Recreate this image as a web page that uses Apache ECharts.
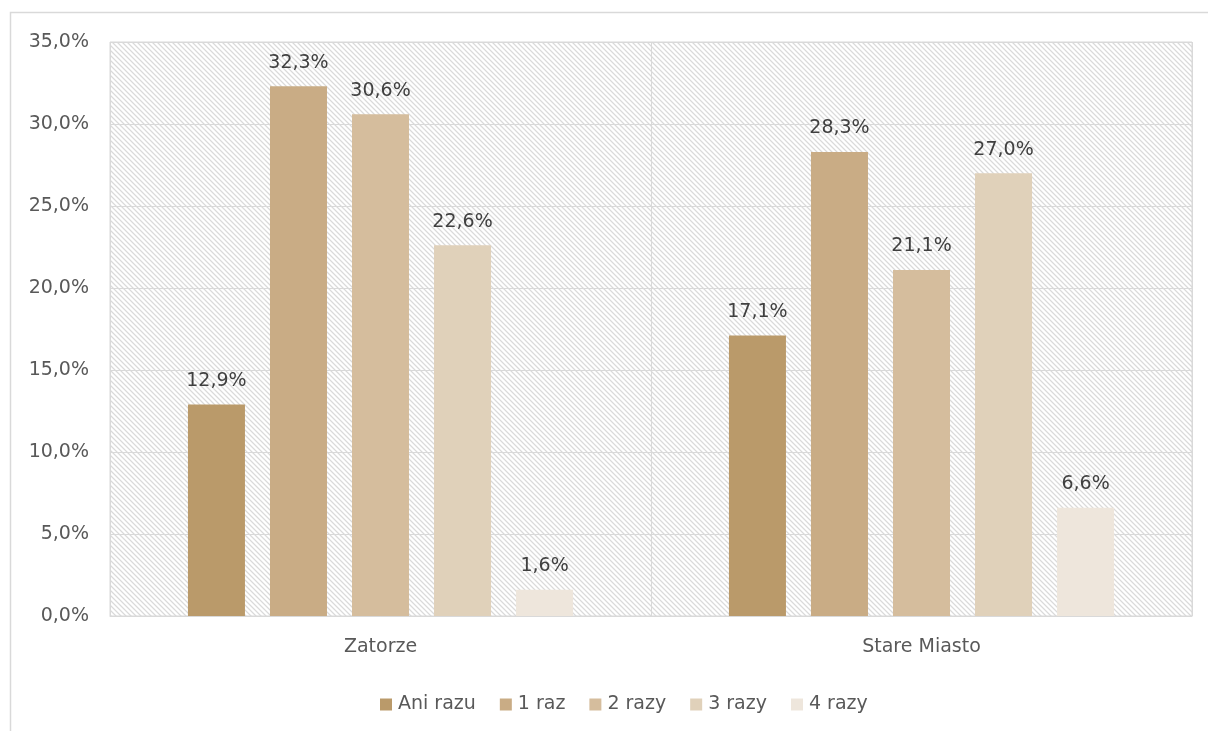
<!DOCTYPE html>
<html>
<head>
<meta charset="utf-8">
<script src="https://cdn.jsdelivr.net/npm/echarts@6/dist/echarts.min.js"></script>
<style>
html,body{margin:0;padding:0;background:#fff;}
#chart{width:1208px;height:731px;}
</style>
</head>
<body>
<div id="chart"></div>
<script>
const categories = ['Zatorze', 'Stare Miasto'];
const seriesNames = ['Ani razu', '1 raz', '2 razy', '3 razy', '4 razy'];
const aniRazu = [12.9, 17.1];
const jedenRaz = [32.3, 28.3];
const dwaRazy = [30.6, 21.1];
const trzyRazy = [22.6, 27.0];
const czteryRazy = [1.6, 6.6];
const seriesValues = [aniRazu, jedenRaz, dwaRazy, trzyRazy, czteryRazy];
const colors = ['#BA9A6A', '#C9AC85', '#D5BD9D', '#E0D1BA', '#EEE6DC'];

function makePattern() {
  const n = 5;
  const c = document.createElement('canvas');
  c.width = n; c.height = n;
  const ctx = c.getContext('2d');
  const img = ctx.createImageData(n, n);
  for (let y = 0; y < n; y++) {
    for (let x = 0; x < n; x++) {
      const m = ((x - y) % n + n) % n;
      const v = m === 0 ? 218 : (m === 1 || m === n - 1 ? 240 : 255);
      const i = (y * n + x) * 4;
      img.data[i] = v; img.data[i + 1] = v; img.data[i + 2] = v; img.data[i + 3] = 255;
    }
  }
  ctx.putImageData(img, 0, 0);
  return c;
}

const fontFamily = '"DejaVu Sans", sans-serif';
const textColor = '#595959';
const fmt = v => v.toFixed(1).replace('.', ',') + '%';

const chart = echarts.init(document.getElementById('chart'), null, {renderer: 'canvas'});
chart.setOption({
  animation: false,
  backgroundColor: '#ffffff',
  textStyle: {fontFamily: fontFamily},
  graphic: [{
    type: 'rect', silent: true, z: -10,
    shape: {x: 10.5, y: 12.5, width: 1400, height: 900},
    style: {fill: 'none', stroke: '#d9d9d9', lineWidth: 1.5}
  }],
  grid: {
    left: 110, right: 16, top: 42, bottom: 115,
    show: true,
    backgroundColor: {image: makePattern(), repeat: 'repeat'},
    borderColor: '#d9d9d9', borderWidth: 1
  },
  legend: {
    data: seriesNames,
    left: 375, top: 690,
    itemWidth: 12, itemHeight: 12, itemGap: 24,
    icon: 'rect',
    textStyle: {fontSize: 19, color: textColor, fontFamily: fontFamily, padding: [0, 0, 0, 1]}
  },
  xAxis: {
    type: 'category',
    data: categories,
    axisLine: {show: true, lineStyle: {color: '#d9d9d9', width: 1}},
    axisTick: {show: false},
    axisLabel: {fontSize: 19, color: textColor, margin: 22, fontFamily: fontFamily},
    splitLine: {show: true, lineStyle: {color: '#d9d9d9', width: 1}}
  },
  yAxis: {
    type: 'value',
    min: 0, max: 35, interval: 5,
    axisLine: {show: false},
    axisTick: {show: false},
    axisLabel: {fontSize: 19, color: textColor, margin: 21, fontFamily: fontFamily, formatter: v => fmt(v)},
    splitLine: {show: true, lineStyle: {color: '#d9d9d9', width: 1}}
  },
  series: seriesNames.map((name, i) => ({
    name: name,
    type: 'bar',
    data: seriesValues[i],
    barWidth: 57,
    barGap: '43.9%',
    itemStyle: {color: colors[i]},
    label: {
      show: true, position: 'top', distance: 14,
      fontSize: 19, color: '#404040', fontFamily: fontFamily,
      formatter: p => fmt(p.value)
    }
  }))
});
</script>
</body>
</html>
